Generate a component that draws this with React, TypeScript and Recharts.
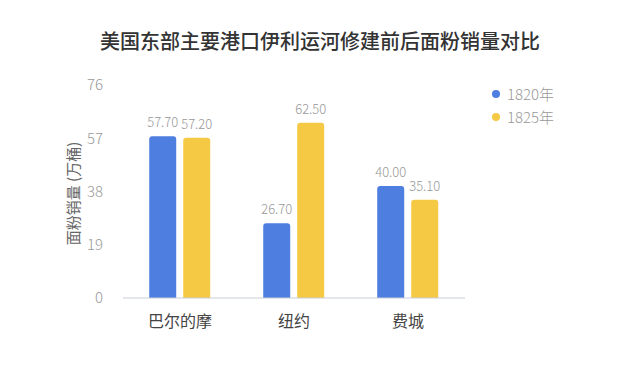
import { BarChart, Bar, XAxis, YAxis, LabelList } from "recharts"

const categories = ["巴尔的摩", "纽约", "费城"]
const sales1820 = [57.7, 26.7, 40.0]
const sales1825 = [57.2, 62.5, 35.1]
const yTicks = [0, 19, 38, 57, 76]

const COLORS = {
  y1820: "#4e7fe0",
  y1825: "#f6c945",
}

const FONT = "'Noto Sans CJK SC', 'Noto Sans', sans-serif"

const data = categories.map((name, i) => ({
  name,
  y1820: sales1820[i],
  y1825: sales1825[i],
}))

function LegendBox() {
  const items = [
    { key: "y1820", label: "1820年" },
    { key: "y1825", label: "1825年" },
  ]
  return (
    <div
      style={{
        position: "absolute",
        left: 492,
        top: 82,
        fontFamily: FONT,
      }}
    >
      {items.map((item) => (
        <div
          key={item.key}
          style={{ display: "flex", alignItems: "center", height: 23 }}
        >
          {/* dot */}
          <span
            style={{
              width: 8,
              height: 8,
              borderRadius: "50%",
              marginRight: 7,
              backgroundColor: COLORS[item.key as keyof typeof COLORS],
            }}
          />
          <span style={{ fontSize: 15, color: "#999", fontWeight: 300 }}>
            {item.label}
          </span>
        </div>
      ))}
    </div>
  )
}

function YLabel(props: any) {
  const vb = props.viewBox || { x: 83, y: 85, width: 40, height: 213 }
  const cx = 72
  const cy = vb.y + vb.height / 2 + 2
  return (
    <text
      x={cx}
      y={cy}
      transform={`rotate(-90 ${cx} ${cy})`}
      textAnchor="middle"
      dominantBaseline="central"
      fill="#666"
      fontSize={15}
      fontFamily={FONT}
    >
      面粉销量 (万桶)
    </text>
  )
}

export default function App() {
  return (
    <div
      style={{
        position: "absolute",
        left: 0,
        top: 0,
        width: 640,
        height: 378,
        background: "#fff",
      }}
    >
      {/* Title */}
      <div
        style={{
          position: "absolute",
          top: 26,
          left: 0,
          width: 640,
          textAlign: "center",
          fontFamily: FONT,
          fontSize: 20,
          fontWeight: 500,
          color: "#333",
        }}
      >
        美国东部主要港口伊利运河修建前后面粉销量对比
      </div>

      <BarChart
        width={640}
        height={378}
        data={data}
        margin={{ top: 85, right: 175, bottom: 50, left: 83 }}
        barGap={7}
        barCategoryGap="23%"
      >
        <XAxis
          dataKey="name"
          tickLine={false}
          axisLine={{ stroke: "#c8cdd8" }}
          height={30}
          tickMargin={12}
          tick={{ fill: "#444", fontSize: 16, fontFamily: FONT }}
        />
        <YAxis
          width={40}
          domain={[0, 76]}
          ticks={yTicks}
          axisLine={false}
          tickLine={false}
          tickMargin={14}
          tick={{ fill: "#999", fontSize: 15, fontFamily: FONT, fontWeight: 300 }}
          label={<YLabel />}
        />
        <Bar
          dataKey="y1820"
          fill={COLORS.y1820}
          radius={[3, 3, 0, 0]}
          isAnimationActive={false}
        >
          <LabelList
            dataKey="y1820"
            position="top"
            offset={9}
            fill="#999"
            fontSize={13}
            fontFamily={FONT}
            fontWeight={300}
            formatter={(v: any) => Number(v).toFixed(2)}
          />
        </Bar>
        <Bar
          dataKey="y1825"
          fill={COLORS.y1825}
          radius={[3, 3, 0, 0]}
          isAnimationActive={false}
        >
          <LabelList
            dataKey="y1825"
            position="top"
            offset={9}
            fill="#999"
            fontSize={13}
            fontFamily={FONT}
            fontWeight={300}
            formatter={(v: any) => Number(v).toFixed(2)}
          />
        </Bar>
      </BarChart>

      {/* Legend */}
      <LegendBox />
    </div>
  )
}
